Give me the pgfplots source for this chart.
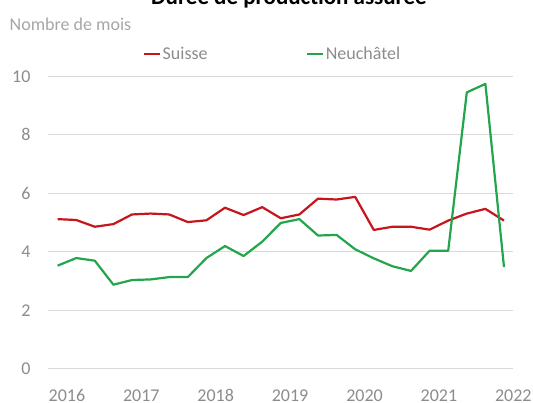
\documentclass[border=0pt]{standalone}
\usepackage{pgfplots}
\pgfplotsset{compat=1.18}
\usepackage{fontspec}
\setmainfont{Carlito}
\definecolor{cred}{HTML}{C4161C}
\definecolor{cgreen}{HTML}{23A64B}
\definecolor{tickgray}{HTML}{8C8C8C}
\definecolor{lightgray2}{HTML}{A6A6A6}
\definecolor{gridgray}{HTML}{D9D9D9}
\begin{document}
\begin{tikzpicture}[x=1pt,y=1pt]
\useasboundingbox (0,0) rectangle (533,403);
\begin{axis}[
  at={(48.3pt,34pt)}, anchor=south west,
  scale only axis, width=465pt, height=292.7pt,
  xmin=-0.5, xmax=24.5, ymin=0, ymax=10,
  axis line style={draw=none},
  ytick={0,2,...,10},
  xtick={0.5,4.5,...,24.5},
  xticklabels={2016,2017,2018,2019,2020,2021,2022},
  ymajorgrids, grid style={gridgray, line width=1pt},
  major tick length=0pt,
  tick label style={font=\fontsize{18}{20}\selectfont, text=tickgray},
  /pgf/number format/assume math mode=true,
  yticklabel style={xshift=-14.3pt},
  xticklabel style={yshift=-17pt},
  clip=false,
  legend columns=2,
  legend style={draw=none, fill=none, at={(94pt,315.3pt)}, anchor=west,
    font=\fontsize{18}{20}\selectfont, text=tickgray, inner sep=0pt,
    /tikz/every even column/.append style={column sep=96pt}},
  legend image code/.code={\draw[#1] (0pt,0pt) -- (16pt,0pt);},
]
\addplot[cred, line width=2.2pt, line join=round] coordinates {
(0,5.12) (1,5.09) (2,4.86) (3,4.95) (4,5.28) (5,5.31) (6,5.28) (7,5.02)
(8,5.08) (9,5.51) (10,5.26) (11,5.53) (12,5.15) (13,5.28) (14,5.82) (15,5.79)
(16,5.88) (17,4.75) (18,4.86) (19,4.86) (20,4.76) (21,5.07) (22,5.31) (23,5.47) (24,5.07)};
\addlegendentry{Suisse}
\addplot[cgreen, line width=2.2pt, line join=round] coordinates {
(0,3.53) (1,3.79) (2,3.70) (3,2.88) (4,3.04) (5,3.06) (6,3.14) (7,3.14)
(8,3.79) (9,4.20) (10,3.86) (11,4.35) (12,4.99) (13,5.12) (14,4.56) (15,4.58)
(16,4.09) (17,3.78) (18,3.51) (19,3.35) (20,4.04) (21,4.04) (22,9.45) (23,9.74) (24,3.48)};
\addlegendentry{Neuchâtel}
\end{axis}
\node[anchor=base, font=\bfseries\fontsize{23}{26}\selectfont] at (289,398) {Durée de production assurée};
\node[anchor=base west, inner sep=0pt, font=\fontsize{18}{20}\selectfont, text=lightgray2] at (9.5,372) {Nombre de mois};
\end{tikzpicture}
\end{document}
